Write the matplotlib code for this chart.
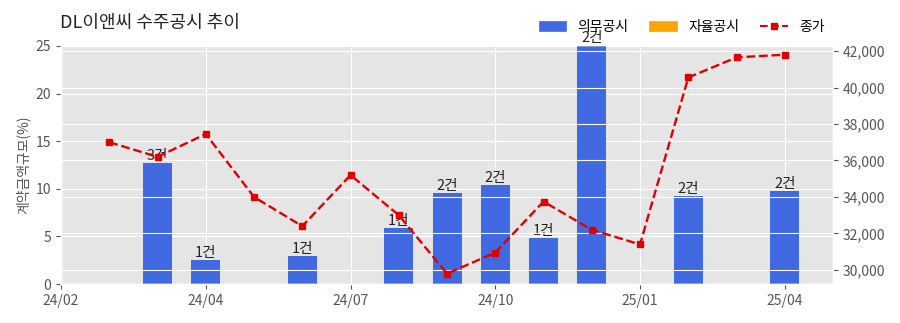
import numpy as np
import matplotlib
matplotlib.use("Agg")
import matplotlib.pyplot as plt
from matplotlib.patches import Patch
from matplotlib.lines import Line2D

plt.style.use("ggplot")
plt.rcParams['font.family'] = ['Noto Sans CJK KR', 'DejaVu Sans']
plt.rcParams['axes.unicode_minus'] = False

# 월 인덱스 (0 = 첫 눈금)
months = ["24/01", "24/02", "24/03", "24/04", "24/05", "24/06", "24/07", "24/08",
          "24/09", "24/10", "24/11", "24/12", "25/01", "25/02", "25/03", "25/04"]

# 의무공시 계약금액규모(%) 와 건수
bar_idx = [2, 3, 5, 7, 8, 9, 10, 11, 13, 15]
bar_val = [12.7, 2.5, 2.9, 5.9, 9.6, 10.4, 4.85, 25.1, 9.25, 9.75]
bar_cnt = ["3건", "1건", "1건", "1건", "2건", "2건", "1건", "2건", "2건", "2건"]

# 종가
price_idx = list(range(1, 16))
price = [37000, 36200, 37450, 34000, 32400, 35200, 33000, 29800,
         30950, 33750, 32200, 31400, 40550, 41650, 41800]

tick_pos = [0, 3, 6, 9, 12, 15]
tick_lab = ["24/02", "24/04", "24/07", "24/10", "25/01", "25/04"]

fig = plt.figure(figsize=(9, 3.23), dpi=100)
ax = fig.add_axes([0.0678, 0.1207, 0.8578, 0.74])

ax.bar(bar_idx, bar_val, width=0.6, color="royalblue", zorder=2)
for i, v, c in zip(bar_idx, bar_val, bar_cnt):
    ax.text(i, v, c, ha="center", va="bottom", fontsize=10.5, color="#222222", zorder=3)

ax.set_xlim(0, 16)
ax.set_ylim(0, 25.1)
ax.set_yticks([0, 5, 10, 15, 20, 25])
ax.set_xticks(tick_pos)
ax.set_xticklabels(tick_lab)
ax.set_ylabel("계약금액규모(%)", fontsize=10, color="#555555")
ax.tick_params(labelsize=10, colors="#555555")

ax2 = ax.twinx()
ax2.plot(price_idx, price, color="#e00000", linestyle="--", marker="s",
         markersize=5, linewidth=1.7)
ax2.set_ylim(29230, 42330)
ax2.set_yticks([30000, 32000, 34000, 36000, 38000, 40000, 42000])
ax2.set_yticklabels([f"{v:,}" for v in [30000, 32000, 34000, 36000, 38000, 40000, 42000]])
ax2.tick_params(labelsize=10, colors="#555555")
ax2.grid(True, color="white")

fig.text(0.0667, 0.93, "DL이앤씨 수주공시 추이", fontsize=13, color="#222222", va="center")

handles = [Patch(color="royalblue"), Patch(color="orange"),
           Line2D([], [], color="#e00000", linestyle="--", marker="s", markersize=5)]
fig.legend(handles, ["의무공시", "자율공시", "종가"], loc="center right",
           bbox_to_anchor=(0.93, 0.917), ncol=3, frameon=False, fontsize=10,
           handlelength=2.0, handletextpad=0.8, columnspacing=1.5)

fig.savefig("out.png", dpi=100)
